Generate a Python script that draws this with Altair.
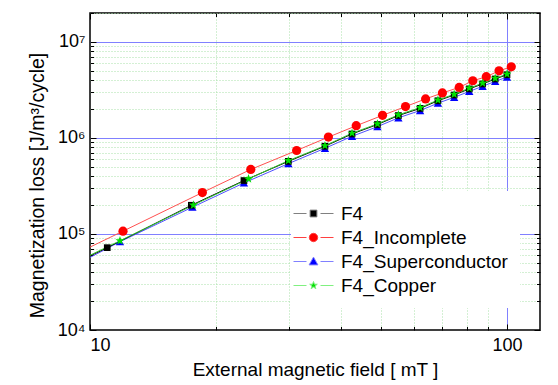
import altair as alt
import pandas as pd

SERIES = ["F4", "F4_Incomplete", "F4_Superconductor", "F4_Copper"]

F4_X = [11.0, 17.5, 23.4, 29.9, 36.6, 42.5, 48.9, 54.9, 61.9, 68.3, 74.7, 81.2, 87.4, 93.7, 100.0]
F4_Y = [7.2e4, 1.99e5, 3.6e5, 5.7e5, 8.2e5, 1.10e6, 1.38e6, 1.71e6, 2.03e6, 2.44e6, 2.80e6, 3.24e6, 3.65e6, 4.11e6, 4.55e6]
INC_X = [12.0, 18.6, 24.3, 31.3, 37.3, 43.5, 50.3, 57.1, 63.8, 70.0, 76.8, 82.8, 89.2, 95.7, 102.4]
INC_Y = [1.07e5, 2.7e5, 4.7e5, 7.4e5, 1.02e6, 1.34e6, 1.72e6, 2.12e6, 2.55e6, 2.94e6, 3.36e6, 3.94e6, 4.34e6, 5.0e6, 5.5e6]
SUP_X = [11.8, 17.6, 23.4, 29.9, 36.6, 42.5, 48.9, 54.9, 61.9, 68.3, 74.7, 81.2, 87.4, 93.7, 100.0]
SUP_Y = [8.3e4, 1.9e5, 3.4e5, 5.4e5, 7.8e5, 1.04e6, 1.31e6, 1.62e6, 1.93e6, 2.30e6, 2.65e6, 3.05e6, 3.45e6, 3.88e6, 4.30e6]
COP_X = [11.8, 17.7, 24.0, 29.9, 36.6, 42.5, 48.9, 54.9, 61.9, 68.3, 74.7, 81.2, 87.4, 93.7, 100.0]
COP_Y = [8.5e4, 2.0e5, 3.75e5, 5.8e5, 8.3e5, 1.12e6, 1.40e6, 1.74e6, 2.07e6, 2.48e6, 2.85e6, 3.30e6, 3.72e6, 4.18e6, 4.62e6]
# where each connecting line starts at the left edge (x = 10 mT)
LINE_START_X = 10.0
LINE_START_Y = [5.9e4, 7.3e4, 5.7e4, 6.0e4]

X_MAJOR = [10, 100]
X_MINOR = [20, 30, 40, 50, 60, 70, 80, 90]
Y_MAJOR = [1e4, 1e5, 1e6, 1e7]
Y_MINOR = [2e4, 3e4, 4e4, 5e4, 6e4, 7e4, 8e4, 9e4,
           2e5, 3e5, 4e5, 5e5, 6e5, 7e5, 8e5, 9e5,
           2e6, 3e6, 4e6, 5e6, 6e6, 7e6, 8e6, 9e6, 2e7]

LINE_COLORS = ["#000000", "#ff5050", "#5050ff", "#30c830"]
MARKER_COLORS = ["#000000", "#ff0000", "#0000ff", "#00e000"]
LEGEND_LINE_COLORS = ["#808080", "#ff4040", "#8080ff", "#80f080"]

STAR = ("M0,-1L0.235,-0.324L0.951,-0.309L0.38,0.124L0.588,0.809L0,0.4"
        "L-0.588,0.809L-0.38,0.124L-0.951,-0.309L-0.235,-0.324Z")
MARK_SHAPES = ["square", "circle", "triangle-up", STAR]
MARK_SIZES = [45, 85, 70, 90]

# legend symbols: unit = 10 px (symbolSize 400)
LEG_LINE = "M-2,0H-0.7M0.7,0H2"
LEGEND_PATHS = [
    LEG_LINE + "M-0.34,-0.34H0.34V0.34H-0.34Z",
    LEG_LINE + "M-0.42,0A0.42,0.42 0 1,0 0.42,0A0.42,0.42 0 1,0 -0.42,0Z",
    LEG_LINE + "M0,-0.44L0.44,0.34H-0.44Z",
    LEG_LINE + ("M0,-0.4L0.094,-0.13L0.38,-0.124L0.152,0.05L0.236,0.324L0,0.16"
                "L-0.236,0.324L-0.152,0.05L-0.38,-0.124L-0.094,-0.13Z"),
]

rows = []
for s, xs, ys, y0 in zip(SERIES, [F4_X, INC_X, SUP_X, COP_X], [F4_Y, INC_Y, SUP_Y, COP_Y], LINE_START_Y):
    rows.append({"series": s, "x": LINE_START_X, "y": y0, "kind": "start"})
    for xv, yv in zip(xs, ys):
        rows.append({"series": s, "x": xv, "y": yv, "kind": "pt"})
df = pd.DataFrame(rows)

W, H = 450, 317
FONT = "Liberation Sans"
xscale = alt.Scale(type="log", domain=[10, 120], nice=False)
yscale = alt.Scale(type="log", domain=[1e4, 2e7], nice=False)

MAJOR_TEST = "indexof([10,100,10000,100000,1000000,10000000], datum.value) >= 0"
TICK_SIZE = {"condition": {"test": MAJOR_TEST, "value": 6}, "value": 3.5}


def carrier(ax_x, ax_y):
    return alt.Chart(df).mark_point(opacity=0).encode(
        x=alt.X("x:Q", scale=xscale, axis=ax_x),
        y=alt.Y("y:Q", scale=yscale, axis=ax_y),
    )


def plain(**kw):
    base = dict(labels=False, ticks=False, domain=False, grid=False, title=None)
    base.update(kw)
    return alt.Axis(**base)


grid_minor = carrier(
    plain(orient="bottom", values=X_MINOR, grid=True, gridColor="#a8e0a8", gridDash=[1, 2], gridWidth=1),
    plain(orient="left", values=Y_MINOR, grid=True, gridColor="#a8e0a8", gridDash=[1, 2], gridWidth=1),
)
grid_major = carrier(
    plain(orient="bottom", values=[100], grid=True, gridColor="#8080ff", gridWidth=1),
    plain(orient="left", values=[1e5, 1e6, 1e7], grid=True, gridColor="#8080ff", gridWidth=1),
)
ticks_a = carrier(
    plain(orient="top", offset=-H, values=X_MAJOR + X_MINOR, ticks=True, tickColor="black",
          tickWidth=1, tickSize=TICK_SIZE),
    plain(orient="right", offset=-W, values=Y_MAJOR + Y_MINOR, ticks=True, tickColor="black",
          tickWidth=1, tickSize=TICK_SIZE),
)
ticks_b = carrier(
    plain(orient="bottom", offset=-H, values=X_MAJOR + X_MINOR, ticks=True, tickColor="black",
          tickWidth=1, tickSize=TICK_SIZE),
    plain(orient="left", offset=-W, values=Y_MAJOR + Y_MINOR, ticks=True, tickColor="black",
          tickWidth=1, tickSize=TICK_SIZE),
)
labels = carrier(
    alt.Axis(orient="bottom", values=X_MAJOR, ticks=False, domain=False, grid=False,
             labelExpr="format(datum.value, 'd')", labelFont=FONT, labelFontSize=18,
             labelColor="black", labelPadding=6,
             title="External magnetic field [ mT ]", titleFont=FONT, titleFontSize=19,
             titleFontWeight="normal", titleColor="black", titlePadding=6),
    alt.Axis(orient="left", values=Y_MAJOR, ticks=False, domain=False, grid=False,
             labelExpr="'10' + ['⁰','¹','²','³','⁴','⁵','⁶','⁷','⁸'][round(log(datum.value)/LN10)]",
             labelFont=FONT, labelFontSize=18, labelColor="black", labelPadding=5,
             title="Magnetization loss [J/m³/cycle]", titleFont=FONT, titleFontSize=19.5,
             titleFontWeight="normal", titleColor="black", titleAngle=270,
             titleX=-53, titleY=172, titleAlign="center", titleBaseline="middle"),
)

data_layers = []
for i in [1, 2, 0, 3]:
    s = SERIES[i]
    data_layers.append(
        alt.Chart(df).transform_filter(f"datum.series == '{s}'").mark_line(
            color=LINE_COLORS[i], strokeWidth=1, clip=True
        ).encode(
            x=alt.X("x:Q", scale=xscale, axis=None),
            y=alt.Y("y:Q", scale=yscale, axis=None),
            order="x:Q",
        )
    )
for i in [1, 2, 0, 3]:
    s = SERIES[i]
    data_layers.append(
        alt.Chart(df).transform_filter(f"datum.series == '{s}' && datum.kind == 'pt'").mark_point(
            shape=MARK_SHAPES[i], filled=True, color=MARKER_COLORS[i], size=MARK_SIZES[i], opacity=1
        ).encode(
            x=alt.X("x:Q", scale=xscale, axis=None),
            y=alt.Y("y:Q", scale=yscale, axis=None),
        )
    )

leg = alt.Legend(title=None, orient="none", legendX=201, legendY=178, fillColor="white",
                 padding=12, symbolSize=400, symbolStrokeWidth=1, symbolOpacity=1,
                 labelFont=FONT, labelFontSize=19, labelColor="black", labelOffset=17,
                 labelLimit=400, rowPadding=3, zindex=1)
legend_layer = alt.Chart(df).transform_filter("datum.x < 0").mark_point(filled=True).encode(
    fill=alt.Fill("series:N", scale=alt.Scale(domain=SERIES, range=MARKER_COLORS), legend=leg),
    stroke=alt.Stroke("series:N", scale=alt.Scale(domain=SERIES, range=LEGEND_LINE_COLORS), legend=leg),
    shape=alt.Shape("series:N", scale=alt.Scale(domain=SERIES, range=LEGEND_PATHS), legend=leg),
)

chart = alt.layer(
    grid_minor, grid_major, *data_layers, ticks_a, ticks_b, labels, legend_layer
).resolve_axis(x="independent", y="independent").properties(
    width=W, height=H,
    autosize=alt.AutoSizeParams(type="none"),
    padding={"left": 90, "top": 13, "right": 18, "bottom": 55},
    background="white",
).configure_view(stroke="black", strokeWidth=1.5)

chart.save("out.html", embed_options={"renderer": "svg", "actions": False})
